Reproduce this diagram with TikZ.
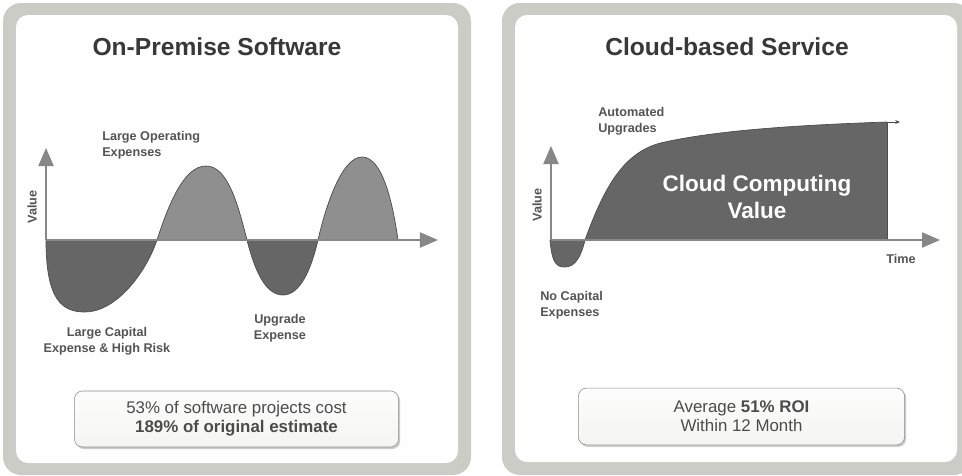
\documentclass[tikz,border=0pt]{standalone}
\usepackage{fontspec}
\setmainfont{Liberation Sans}
\definecolor{frame_c}{rgb}{
	0.80, 0.80, 0.78
	}
\definecolor{low_c}{rgb}{
	0.40, 0.40, 0.40
	}
\definecolor{high_c}{rgb}{
	0.56, 0.56, 0.56
	}
\definecolor{axis_c}{rgb}{
	0.53, 0.53, 0.53
	}
\definecolor{text_c}{rgb}{
	0.33, 0.33, 0.33
	}
\usetikzlibrary{arrows.meta,
                positioning,
                shadows}

\begin{document}
\begin{tikzpicture}[
			x=0.025cm, y=-0.025cm,
			panel/.style = {fill=frame_c, rounded corners=0.45cm},
			sheet/.style = {fill=white!98!frame_c, rounded corners=0.3cm},
			title/.style = {text=black!78, font=\bfseries\fontsize{17.5}{20}\selectfont},
			lbl/.style = {text=text_c, inner sep=0pt, font=\bfseries\fontsize{9}{11.5}\selectfont},
			axis/.style = {draw=axis_c, line width=1pt, -{Triangle[length=0.45cm, width=0.38cm]}},
			lobe/.style = {draw=black!70, line width=0.5pt},
			note/.style = {draw=black!45, rounded corners=0.2cm, top color=white!95!frame_c,
				bottom color=white!80!frame_c, text=black!70, align=center,
				font=\fontsize{12}{13.5}\selectfont, drop shadow={shadow xshift=0.04cm,
				shadow yshift=-0.05cm, opacity=0.4}},
			]
			\clip (0,0) rectangle (962,475);
			\useasboundingbox (0,0) rectangle (962,475);
			% panels
			\fill[panel] (3,3) rectangle (471,475);
			\fill[sheet] (16,15) rectangle (458,463);
			\fill[panel] (502,3) rectangle (972,475);
			\fill[sheet] (515,15) rectangle (957,462);
			\node[title] (T1) at (217,47) {On-Premise Software};
			\node[title] (T2) at (727,47) {Cloud-based Service};

			% on-premise curve
			\filldraw[lobe, fill=low_c] (46,240) .. controls (46,300) and (62,312) .. (85,312)
				.. controls (115,312) and (145,275) .. (157,240) -- cycle;
			\filldraw[lobe, fill=high_c] (157,240) .. controls (170,200) and (185,166) .. (206,166)
				.. controls (228,166) and (238,205) .. (247,240) -- cycle;
			\filldraw[lobe, fill=low_c] (247,240) .. controls (255,272) and (266,295) .. (283,295)
				.. controls (300,295) and (311,270) .. (318,240) -- cycle;
			\filldraw[lobe, fill=high_c] (318,240) .. controls (326,205) and (342,157) .. (362,157)
				.. controls (383,157) and (393,205) .. (398,240) -- cycle;
			\coordinate (O1) at (46,240);
			\coordinate (Y1) at (46,148);
			\coordinate (X1) at (438,240);
			\draw[axis] (O1) -- (Y1);
			\draw[axis] (O1) -- (X1);
			\node[lbl, rotate=90] (V1) at (32,207) {Value};
			\node[lbl, anchor=west, align=left] (L1) at (102,145) {Large Operating\\Expenses};
			\node[lbl, align=center] (L2) at (107,341) {Large Capital\\Expense \& High Risk};
			\node[lbl, align=center] (L3) at (280,328) {Upgrade\\Expense};
			\node[note, minimum width=8.1cm, minimum height=1.4cm] (N1) at (236.5,419)
				{53\% of software projects cost\\\textbf{189\% of original estimate}};

			% cloud curve
			\filldraw[lobe, fill=low_c] (550,240) .. controls (552,264) and (557,267) .. (565,267)
				.. controls (575,267) and (581,257) .. (585,240) -- cycle;
			\fill[low_c] (585,240) .. controls (605,185) and (625,150) .. (665,142)
				.. controls (720,130) and (800,125) .. (887,122) -- (887,240) -- cycle;
			\draw[lobe] (585,240) .. controls (605,185) and (625,150) .. (665,142)
				.. controls (720,130) and (800,125) .. (887,122) coordinate (C1);
			\coordinate (C2) at (900,122);
			\draw[lobe, -{Stealth[length=0.12cm, width=0.1cm]}] (C1) -- (C2);
			\draw[lobe] (C1) -- (887,240);
			\coordinate (O2) at (551,240);
			\coordinate (Y2) at (551,146);
			\coordinate (X2) at (940,240);
			\draw[axis] (O2) -- (Y2);
			\draw[axis] (O2) -- (X2);
			\node[text=white, align=center, font=\bfseries\fontsize{16}{19}\selectfont] (CV) at (757,197)
				{Cloud Computing\\Value};
			\node[lbl, rotate=90] (V2) at (537,205) {Value};
			\node[lbl] (TM) at (901,259) {Time};
			\node[lbl, anchor=west, align=left] (L4) at (598,121) {Automated\\Upgrades};
			\node[lbl, anchor=west, align=left] (L5) at (540,305) {No Capital\\Expenses};
			\node[note, minimum width=8.15cm, minimum height=1.42cm] (N2) at (741.5,416.5)
				{Average \textbf{51\% ROI}\\Within 12 Month};
		\end{tikzpicture}
\end{document}
